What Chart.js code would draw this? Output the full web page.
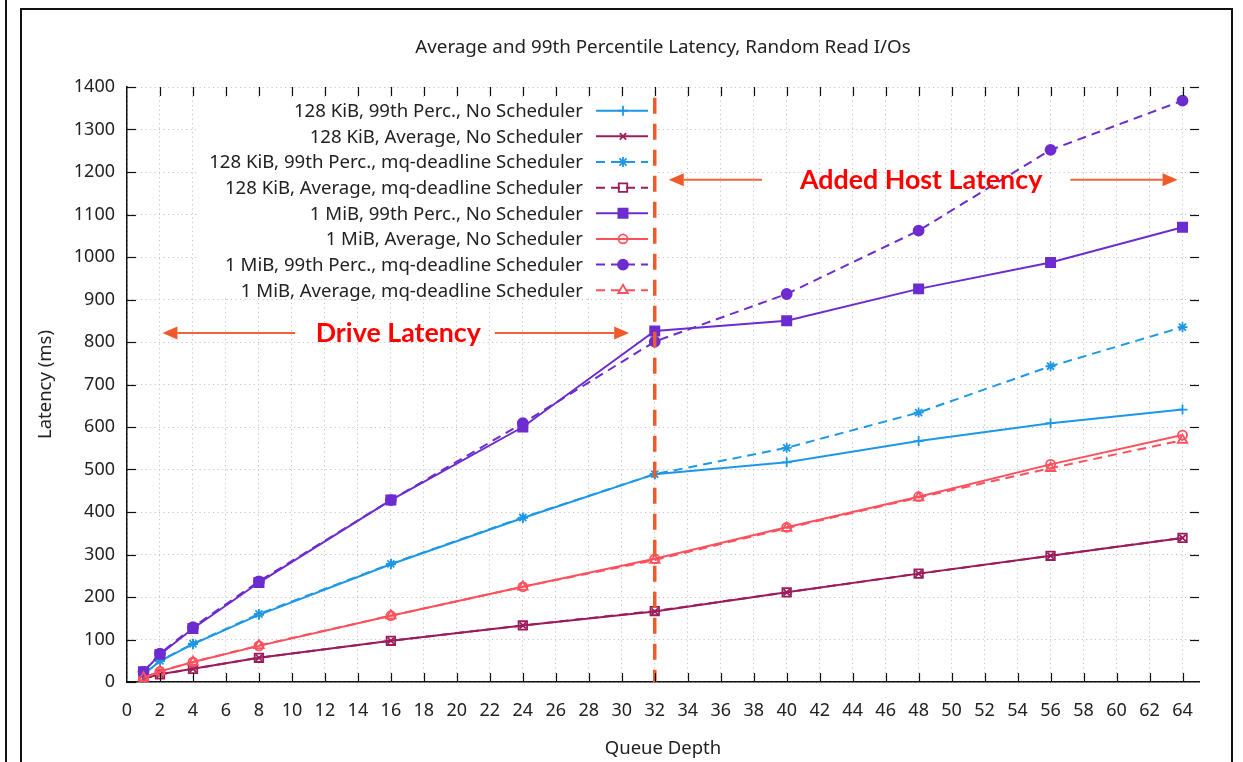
<!DOCTYPE html>
<html>
<head>
<meta charset="utf-8">
<title>Average and 99th Percentile Latency, Random Read I/Os</title>
<script src="https://cdn.jsdelivr.net/npm/chart.js@4.4.1/dist/chart.umd.min.js"></script>
<style>
  html, body { margin: 0; padding: 0; background: #fff; }
  #wrap { position: relative; width: 1243px; height: 762px; overflow: hidden; background: #fff; }
  #c { position: absolute; left: 0; top: 0; }
  .edge { position: absolute; background: #111; pointer-events: none; }
</style>
</head>
<body>
<div id="wrap">
  <canvas id="c" width="1243" height="762"></canvas>
  <div class="edge" style="left:5px;top:0;width:2px;height:762px"></div>
  <div class="edge" style="left:20px;top:8px;width:2px;height:754px"></div>
  <div class="edge" style="left:20px;top:8px;width:1213px;height:2px"></div>
  <div class="edge" style="left:1231px;top:8px;width:2px;height:754px"></div>
</div>
<script>
// Queue depths tested
const queueDepth = [1, 2, 4, 8, 16, 24, 32, 40, 48, 56, 64];

// Latency (ms) per queue depth
const kib128P99None = [18, 49, 89, 158, 277, 386, 489, 517, 567, 609, 641];
const kib128AvgNone = [8, 18, 31, 57, 97, 133, 166, 211, 255, 297, 339];
const kib128P99Mq   = [18, 50, 90, 160, 278, 387, 489, 551, 634, 743, 835];
const kib128AvgMq   = [8, 18, 31, 57, 97, 133, 167, 211, 255, 297, 339];
const mib1P99None   = [24, 65, 126, 234, 428, 600, 826, 850, 925, 987, 1070];
const mib1AvgNone   = [10, 25, 47, 85, 156, 224, 290, 364, 436, 512, 581];
const mib1P99Mq     = [24, 67, 129, 237, 428, 609, 801, 913, 1062, 1252, 1368];
const mib1AvgMq     = [10, 25, 47, 86, 156, 224, 287, 362, 434, 503, 569];

const seriesLabels = [
  '128 KiB, 99th Perc., No Scheduler',
  '128 KiB, Average, No Scheduler',
  '128 KiB, 99th Perc., mq-deadline Scheduler',
  '128 KiB, Average, mq-deadline Scheduler',
  '1 MiB, 99th Perc., No Scheduler',
  '1 MiB, Average, No Scheduler',
  '1 MiB, 99th Perc., mq-deadline Scheduler',
  '1 MiB, Average, mq-deadline Scheduler'
];

// Axis ticks
const xTickValues = [0, 2, 4, 6, 8, 10, 12, 14, 16, 18, 20, 22, 24, 26, 28, 30, 32,
                     34, 36, 38, 40, 42, 44, 46, 48, 50, 52, 54, 56, 58, 60, 62, 64];
const xMin = 0, xMax = 65;
const yMin = 0, yMax = 1400, yStep = 100;

// Annotations
const schedulerSplitDepth = 32;
const driveLabel = 'Drive Latency';
const hostLabel = 'Added Host Latency';
const chartTitle = 'Average and 99th Percentile Latency, Random Read I/Os';

const BLUE = '#1e98e6', MAGENTA = '#9c1c5b', PURPLE = '#6c2ccf', PINK = '#ff505e';
const ORANGE = '#f05a2a', ARROW = '#f0643c';
const FONT = '"Noto Sans", "Open Sans", sans-serif';
const DASH = [9, 6];

function series(values) {
  return queueDepth.map((q, i) => ({ x: q, y: values[i] }));
}

const styles = [
  { v: kib128P99None, c: BLUE,    dash: [],   ps: 'cross',    r: 5,   fill: false },
  { v: kib128AvgNone, c: MAGENTA, dash: [],   ps: 'crossRot', r: 4.5, fill: false },
  { v: kib128P99Mq,   c: BLUE,    dash: DASH, ps: 'star',     r: 5,   fill: false },
  { v: kib128AvgMq,   c: MAGENTA, dash: DASH, ps: 'rect',     r: 6,   fill: false },
  { v: mib1P99None,   c: PURPLE,  dash: [],   ps: 'rect',     r: 6.5, fill: true  },
  { v: mib1AvgNone,   c: PINK,    dash: [],   ps: 'circle',   r: 4.5, fill: false },
  { v: mib1P99Mq,     c: PURPLE,  dash: DASH, ps: 'circle',   r: 5,   fill: true  },
  { v: mib1AvgMq,     c: PINK,    dash: DASH, ps: 'triangle', r: 5.5, fill: false }
];

const datasets = styles.map((s, i) => ({
  label: seriesLabels[i],
  data: series(s.v),
  borderColor: s.c,
  backgroundColor: s.fill ? s.c : 'rgba(255,255,255,0)',
  borderWidth: 2,
  borderDash: s.dash,
  pointStyle: s.ps,
  pointRadius: s.r,
  pointBorderWidth: 1.8,
  pointBorderColor: s.c,
  pointBackgroundColor: s.fill ? s.c : 'rgba(255,255,255,0)',
  tension: 0,
  fill: false,
  order: styles.length - i
}));

function arrow(ctx, x1, y, x2) {
  // shaft from x1 to x2, head at x2
  const dir = Math.sign(x2 - x1);
  const headLen = 15, headHalf = 6.5;
  ctx.save();
  ctx.strokeStyle = ARROW;
  ctx.fillStyle = ORANGE;
  ctx.lineWidth = 2;
  ctx.beginPath();
  ctx.moveTo(x1, y);
  ctx.lineTo(x2 - dir * headLen, y);
  ctx.stroke();
  ctx.beginPath();
  ctx.moveTo(x2, y);
  ctx.lineTo(x2 - dir * headLen, y - headHalf);
  ctx.lineTo(x2 - dir * headLen, y + headHalf);
  ctx.closePath();
  ctx.fill();
  ctx.restore();
}

const keyPlugin = {
  id: 'keyBox',
  beforeDatasetsDraw(chart) {
    const ctx = chart.ctx;
    const textRight = 583, sampleL = 596, sampleR = 648, top = 110.7, step = 25.65;
    ctx.save();
    ctx.fillStyle = '#fff';
    ctx.fillRect(198, 98, 457, 200);
    ctx.font = '18.6px ' + FONT;
    ctx.textAlign = 'right';
    ctx.textBaseline = 'middle';
    chart.data.datasets.forEach((ds, i) => {
      const y = top + i * step;
      ctx.fillStyle = '#222';
      ctx.fillText(ds.label, textRight, y + 1);
      ctx.save();
      ctx.strokeStyle = ds.borderColor;
      ctx.lineWidth = ds.borderWidth;
      ctx.setLineDash(ds.borderDash);
      ctx.beginPath();
      ctx.moveTo(sampleL, y);
      ctx.lineTo(sampleR, y);
      ctx.stroke();
      ctx.setLineDash([]);
      ctx.fillStyle = ds.pointBackgroundColor;
      ctx.strokeStyle = ds.pointBorderColor;
      ctx.lineWidth = ds.pointBorderWidth;
      Chart.helpers.drawPoint(ctx, {
        pointStyle: ds.pointStyle, radius: ds.pointRadius, rotation: 0, borderWidth: ds.pointBorderWidth
      }, (sampleL + sampleR) / 2 + 1, y);
      ctx.restore();
    });
    ctx.restore();
  }
};

const markupPlugin = {
  id: 'markup',
  afterDatasetsDraw(chart) {
    const { ctx, scales: { x, y } } = chart;
    ctx.save();
    // vertical split at queue depth 32
    const sx = x.getPixelForValue(schedulerSplitDepth);
    ctx.strokeStyle = ORANGE;
    ctx.lineWidth = 3.5;
    ctx.setLineDash([16, 10]);
    ctx.beginPath();
    ctx.moveTo(sx, y.getPixelForValue(1375));
    ctx.lineTo(sx, y.getPixelForValue(0));
    ctx.stroke();
    ctx.setLineDash([]);

    // Drive latency span
    const dY = y.getPixelForValue(821);
    arrow(ctx, x.getPixelForValue(10.2), dY, x.getPixelForValue(2.15));
    arrow(ctx, x.getPixelForValue(22.3), dY, x.getPixelForValue(30.45));
    // Added host latency span
    const hY = y.getPixelForValue(1182);
    arrow(ctx, x.getPixelForValue(38.5), hY, x.getPixelForValue(32.85));
    arrow(ctx, x.getPixelForValue(57.2), hY, x.getPixelForValue(63.7));

    ctx.fillStyle = '#ff0000';
    ctx.font = 'bold 26.8px Lato, "Open Sans", sans-serif';
    ctx.textAlign = 'center';
    ctx.textBaseline = 'alphabetic';
    ctx.fillText(driveLabel, x.getPixelForValue(16.45), dY + 9);
    ctx.fillText(hostLabel, x.getPixelForValue(48.15), hY + 9);
    ctx.restore();
  },
  afterDraw(chart) {
    const { ctx, chartArea: a, scales: { x, y } } = chart;
    ctx.save();
    ctx.strokeStyle = '#111';
    ctx.lineWidth = 1.2;
    const seg = (x1, y1, x2, y2) => { ctx.beginPath(); ctx.moveTo(x1, y1); ctx.lineTo(x2, y2); ctx.stroke(); };
    x.ticks.forEach(t => {
      if (t.value === xMin) return;
      const px = Math.round(x.getPixelForValue(t.value)) + 0.5;
      seg(px, a.bottom, px, a.bottom - 9);
      seg(px, a.top, px, a.top + 9);
    });
    y.ticks.forEach(t => {
      const py = Math.round(y.getPixelForValue(t.value)) + 0.5;
      seg(a.left, py, a.left + 9, py);
      if (t.value !== yMin) seg(a.right, py, a.right - 9, py);
    });
    // title
    ctx.fillStyle = '#222';
    ctx.font = '18.8px ' + FONT;
    ctx.textAlign = 'center';
    ctx.textBaseline = 'middle';
    ctx.fillText(chartTitle, (a.left + a.right) / 2, 48);
    ctx.restore();
  }
};

new Chart(document.getElementById('c'), {
  type: 'line',
  data: { datasets },
  plugins: [keyPlugin, markupPlugin],
  options: {
    responsive: false,
    animation: false,
    devicePixelRatio: 1,
    layout: { padding: { left: 0, right: 44, top: 87, bottom: 0 } },
    plugins: { legend: { display: false }, tooltip: { enabled: false }, title: { display: false } },
    scales: {
      x: {
        type: 'linear',
        min: xMin, max: xMax,
        afterFit(s) { s.height = 80; },
        afterBuildTicks(s) { s.ticks = xTickValues.map(v => ({ value: v })); },
        ticks: {
          autoSkip: false, maxRotation: 0, padding: 18,
          color: '#222', font: { family: FONT, size: 18 },
          callback: v => String(v)
        },
        grid: { color: '#c4c4c4', lineWidth: 1, drawTicks: false },
        border: { display: true, color: '#111', width: 1.5, dash: [1.2, 3.3] },
        title: {
          display: true, text: 'Queue Depth', color: '#222',
          font: { family: FONT, size: 18.5 }, padding: { top: 2, bottom: 2 }
        }
      },
      y: {
        type: 'linear',
        min: yMin, max: yMax,
        afterFit(s) { s.width = 127; },
        ticks: {
          stepSize: yStep, padding: 12,
          color: '#222', font: { family: FONT, size: 18 },
          callback: v => String(v)
        },
        grid: { color: '#c4c4c4', lineWidth: 1, drawTicks: false },
        border: { display: true, color: '#111', width: 1.5, dash: [1.2, 3.3] },
        title: {
          display: true, text: 'Latency (ms)', color: '#222',
          font: { family: FONT, size: 18.5 }, padding: { top: 35, bottom: 35 }
        }
      }
    }
  }
});
</script>
</body>
</html>
